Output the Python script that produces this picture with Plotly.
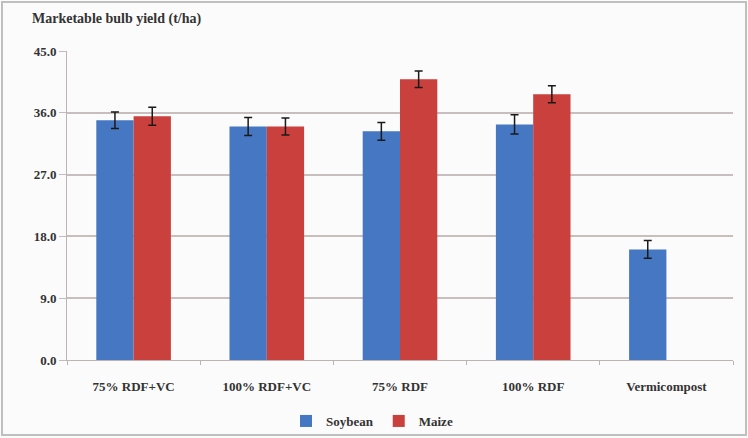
import plotly.graph_objects as go

# Marketable bulb yield (t/ha) by nutrient treatment, for two preceding crops
treatments = ["75% RDF+VC", "100% RDF+VC", "75% RDF", "100% RDF", "Vermicompost"]
soybean = [34.9, 34.0, 33.3, 34.3, 16.1]
soybean_err = [1.2, 1.3, 1.3, 1.4, 1.3]
maize = [35.5, 34.0, 40.9, 38.7, None]
maize_err = [1.3, 1.25, 1.2, 1.25, 0]
y_ticks = [0, 9, 18, 27, 36, 45]

W, H = 748, 438
ML, MR, MT, MB = 67, 15, 51, 78
serif = "'Times New Roman', 'Liberation Serif', 'DejaVu Serif', serif"

fig = go.Figure()
fig.add_trace(go.Bar(
    name="Soybean", x=treatments, y=soybean,
    marker=dict(color="#4677c2", line=dict(width=0)),
    error_y=dict(type="data", array=soybean_err, color="#1a1a1a", thickness=1.5, width=4),
))
fig.add_trace(go.Bar(
    name="Maize", x=treatments, y=maize,
    marker=dict(color="#c9403d", line=dict(width=0)),
    error_y=dict(type="data", array=maize_err, color="#1a1a1a", thickness=1.5, width=4),
))

pw = W - ML - MR
ph = H - MT - MB
def px_x(p):
    return (p - ML) / pw
def px_y(p):
    return 1 - (p - MT) / ph

fig.update_layout(
    width=W, height=H,
    margin=dict(l=ML, r=MR, t=MT, b=MB, autoexpand=False),
    paper_bgcolor="#fbfbfb", plot_bgcolor="#fbfbfb",
    barmode="group", bargap=0.44, bargroupgap=0,
    font=dict(family=serif, size=12, color="#333333"),
    showlegend=True,
    legend=dict(orientation="h", x=px_x(372), xanchor="center",
                y=px_y(421), yanchor="middle",
                font=dict(family=serif, size=13, color="#333333", weight="bold"),
                bgcolor="rgba(0,0,0,0)", itemwidth=30, tracegroupgap=0),
    xaxis=dict(
        type="category", showline=True, linecolor="#bdb3b3", linewidth=1,
        ticks="outside", tickson="boundaries", ticklen=4, tickcolor="#bdb3b3",
        ticklabelstandoff=14,
        tickfont=dict(family=serif, size=13, color="#333333", weight="bold"),
        showgrid=False,
    ),
    yaxis=dict(
        range=[0, 45], tickvals=y_ticks, tickformat=".1f",
        ticksuffix="\u00a0\u00a0\u00a0",
        showline=True, linecolor="#bdb3b3", linewidth=1,
        ticks="outside", ticklen=7, tickcolor="#c4bcbc",
        showgrid=True, gridcolor="#c8bebe", gridwidth=1.5,
        zeroline=False,
        tickfont=dict(family=serif, size=13, color="#333333", weight="bold"),
    ),
    shapes=[dict(type="rect", xref="paper", yref="paper",
                 x0=px_x(2), x1=px_x(W - 2), y0=px_y(H - 3), y1=px_y(2),
                 line=dict(color="#bfbfbf", width=2), layer="below")],
    annotations=[dict(text="Marketable bulb yield (t/ha)", xref="paper", yref="paper",
                      x=px_x(30), y=px_y(19), xanchor="left", yanchor="middle",
                      showarrow=False,
                      font=dict(family=serif, size=14, color="#333333", weight="bold"))],
)

fig.write_html("out.html")
